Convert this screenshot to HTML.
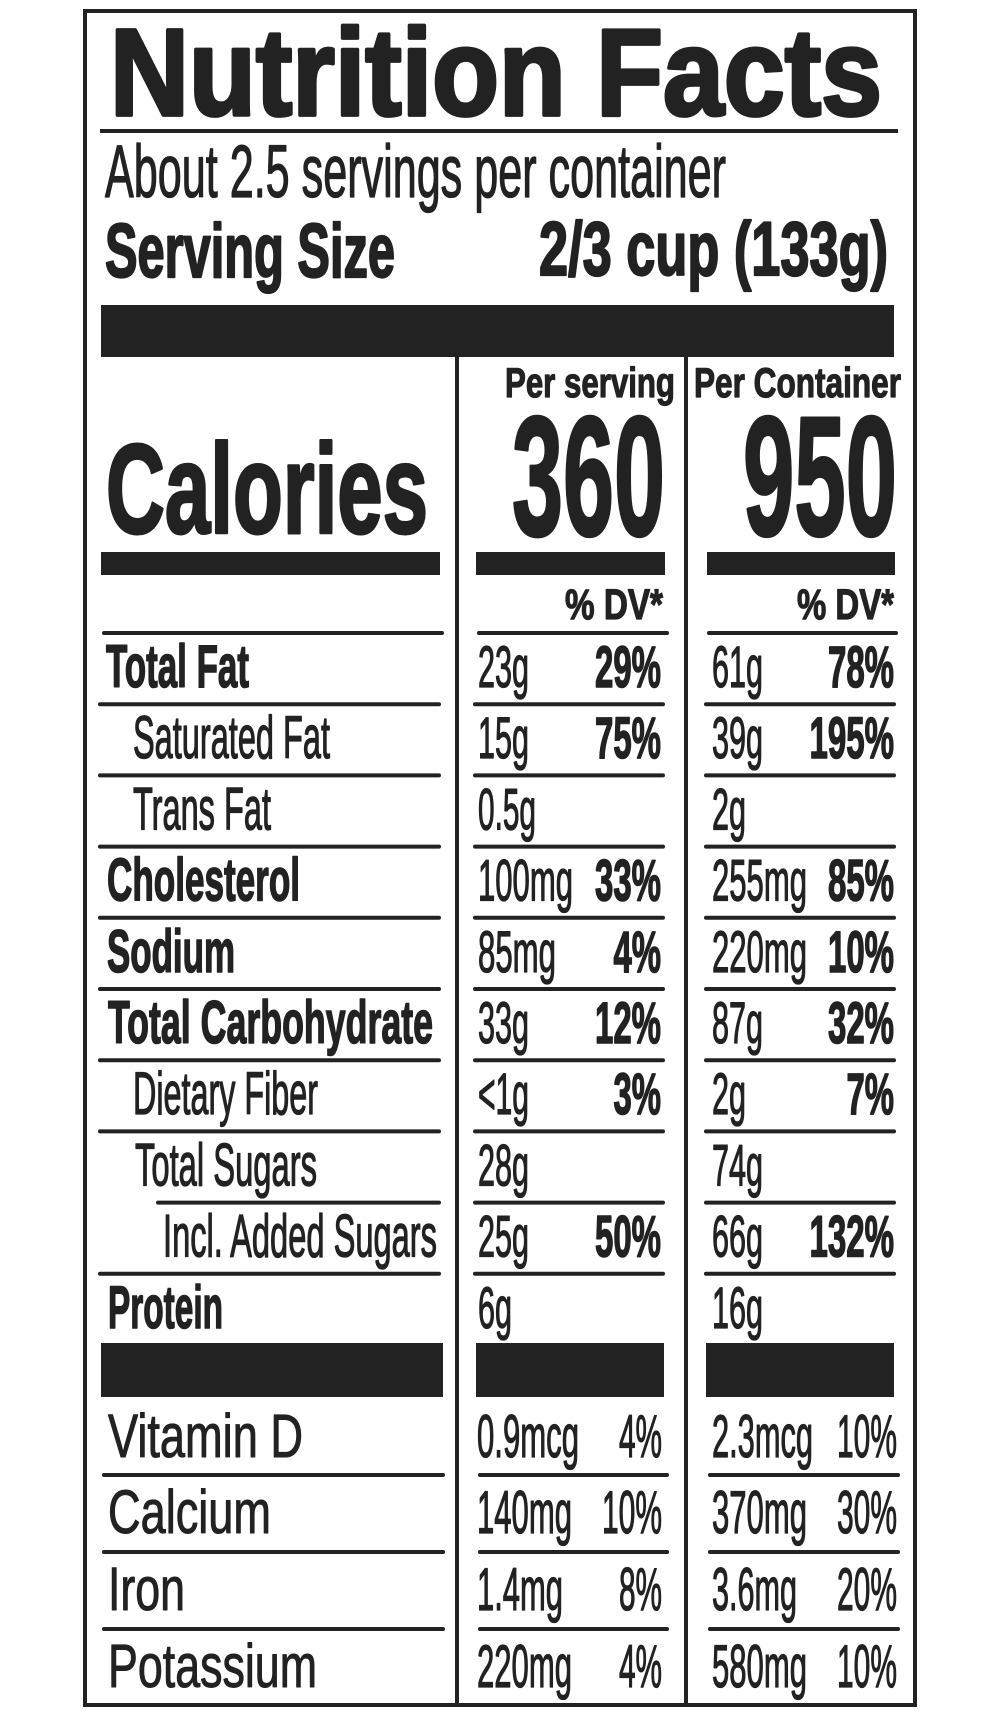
<!DOCTYPE html>
<html><head><meta charset="utf-8"><style>
html,body{margin:0;padding:0;background:#fff;}
svg{display:block;}
text{fill:#222;stroke:#222;stroke-linejoin:round;font-family:"Liberation Sans Narrow","Liberation Sans",sans-serif;}
.b{font-weight:700;stroke-width:1.6;}
.r{font-weight:400;stroke-width:1.3;}
.w{font-family:"Liberation Sans",sans-serif;stroke-width:1.0;}
line{stroke:#222;stroke-width:4;stroke-linecap:round;}
</style></head><body>
<svg width="1000" height="1718" viewBox="0 0 1000 1718" xmlns="http://www.w3.org/2000/svg">
<rect x="0" y="0" width="1000" height="1718" fill="#fff"/>
<rect x="85" y="11" width="830" height="1694" fill="none" stroke="#222" stroke-width="4"/>

<!-- Title -->
<text class="b" x="110" y="115" font-size="123" textLength="772" lengthAdjust="spacingAndGlyphs" style="stroke-width:3.8;font-family:'Liberation Sans',sans-serif">Nutrition Facts</text>
<rect x="100" y="129" width="798" height="4" fill="#222"/>
<text class="r" x="105" y="197" font-size="74" textLength="621" lengthAdjust="spacingAndGlyphs">About 2.5 servings per container</text>
<text class="b" x="105" y="277" font-size="76" textLength="290" lengthAdjust="spacingAndGlyphs" style="stroke-width:2.2">Serving Size</text>
<text class="b" x="539" y="275" font-size="76" textLength="349" lengthAdjust="spacingAndGlyphs" style="stroke-width:2.2">2/3 cup (133g)</text>
<rect x="101" y="305" width="793" height="52" fill="#222"/>

<!-- Dividers -->
<rect x="455" y="357" width="4" height="1348" fill="#222"/>
<rect x="684" y="357" width="4" height="1348" fill="#222"/>

<!-- Calories header -->
<text class="b" x="505" y="397" font-size="42" textLength="170" lengthAdjust="spacingAndGlyphs" style="stroke-width:1.2">Per serving</text>
<text class="b" x="694" y="397" font-size="42" textLength="207" lengthAdjust="spacingAndGlyphs" style="stroke-width:1.2">Per Container</text>
<text class="b" x="106" y="533" font-size="127" textLength="322" lengthAdjust="spacingAndGlyphs" style="stroke-width:3">Calories</text>
<text class="b" x="512" y="535" font-size="170" textLength="153" lengthAdjust="spacingAndGlyphs" style="stroke-width:3">360</text>
<text class="b" x="743" y="535" font-size="170" textLength="154" lengthAdjust="spacingAndGlyphs" style="stroke-width:3">950</text>
<rect x="101" y="552" width="339" height="23" fill="#222"/>
<rect x="476" y="552" width="189" height="23" fill="#222"/>
<rect x="707" y="552" width="188" height="23" fill="#222"/>
<text class="b" x="565" y="619" font-size="43" textLength="98" lengthAdjust="spacingAndGlyphs" style="stroke-width:1.2">% DV*</text>
<text class="b" x="797" y="619" font-size="43" textLength="97" lengthAdjust="spacingAndGlyphs" style="stroke-width:1.2">% DV*</text>

<!-- Row lines -->
<line x1="104" y1="633" x2="442" y2="633"/><line x1="479" y1="633" x2="667" y2="633"/><line x1="709" y1="633" x2="896" y2="633"/>
<line x1="100" y1="704.2" x2="439" y2="704.2"/><line x1="475" y1="704.2" x2="663" y2="704.2"/><line x1="706" y1="704.2" x2="894" y2="704.2"/>
<line x1="100" y1="775.4" x2="439" y2="775.4"/><line x1="475" y1="775.4" x2="663" y2="775.4"/><line x1="706" y1="775.4" x2="894" y2="775.4"/>
<line x1="100" y1="846.6" x2="439" y2="846.6"/><line x1="475" y1="846.6" x2="663" y2="846.6"/><line x1="706" y1="846.6" x2="894" y2="846.6"/>
<line x1="100" y1="917.8" x2="439" y2="917.8"/><line x1="475" y1="917.8" x2="663" y2="917.8"/><line x1="706" y1="917.8" x2="894" y2="917.8"/>
<line x1="100" y1="989" x2="439" y2="989"/><line x1="475" y1="989" x2="663" y2="989"/><line x1="706" y1="989" x2="894" y2="989"/>
<line x1="100" y1="1060.2" x2="439" y2="1060.2"/><line x1="475" y1="1060.2" x2="663" y2="1060.2"/><line x1="706" y1="1060.2" x2="894" y2="1060.2"/>
<line x1="100" y1="1131.4" x2="439" y2="1131.4"/><line x1="475" y1="1131.4" x2="663" y2="1131.4"/><line x1="706" y1="1131.4" x2="894" y2="1131.4"/>
<line x1="158" y1="1202.6" x2="439" y2="1202.6"/><line x1="475" y1="1202.6" x2="663" y2="1202.6"/><line x1="706" y1="1202.6" x2="894" y2="1202.6"/>
<line x1="100" y1="1273.8" x2="439" y2="1273.8"/><line x1="475" y1="1273.8" x2="663" y2="1273.8"/><line x1="706" y1="1273.8" x2="894" y2="1273.8"/>

<!-- Row labels -->
<text class="b" x="106" y="687" font-size="60" textLength="143" lengthAdjust="spacingAndGlyphs">Total Fat</text>
<text class="r" x="133" y="758.2" font-size="60" textLength="197" lengthAdjust="spacingAndGlyphs">Saturated Fat</text>
<text class="r" x="133" y="829.4" font-size="60" textLength="138" lengthAdjust="spacingAndGlyphs">Trans Fat</text>
<text class="b" x="107" y="900.6" font-size="60" textLength="193" lengthAdjust="spacingAndGlyphs">Cholesterol</text>
<text class="b" x="107" y="971.8" font-size="60" textLength="128" lengthAdjust="spacingAndGlyphs">Sodium</text>
<text class="b" x="108" y="1043" font-size="60" textLength="325" lengthAdjust="spacingAndGlyphs">Total Carbohydrate</text>
<text class="r" x="133" y="1114.2" font-size="60" textLength="185" lengthAdjust="spacingAndGlyphs">Dietary Fiber</text>
<text class="r" x="135" y="1185.4" font-size="60" textLength="182" lengthAdjust="spacingAndGlyphs">Total Sugars</text>
<text class="r" x="163" y="1256.6" font-size="60" textLength="274" lengthAdjust="spacingAndGlyphs">Incl. Added Sugars</text>
<text class="b" x="108" y="1327.8" font-size="60" textLength="115" lengthAdjust="spacingAndGlyphs">Protein</text>

<!-- Col2 values -->
<text class="r" x="478" y="687" font-size="58" textLength="51" lengthAdjust="spacingAndGlyphs">23g</text>
<text class="b" x="595" y="687" font-size="58" textLength="66" lengthAdjust="spacingAndGlyphs">29%</text>
<text class="r" x="478" y="758.2" font-size="58" textLength="51" lengthAdjust="spacingAndGlyphs">15g</text>
<text class="b" x="595" y="758.2" font-size="58" textLength="66" lengthAdjust="spacingAndGlyphs">75%</text>
<text class="r" x="478" y="829.4" font-size="58" textLength="58" lengthAdjust="spacingAndGlyphs">0.5g</text>
<text class="r" x="478" y="900.6" font-size="58" textLength="95" lengthAdjust="spacingAndGlyphs">100mg</text>
<text class="b" x="595" y="900.6" font-size="58" textLength="66" lengthAdjust="spacingAndGlyphs">33%</text>
<text class="r" x="478" y="971.8" font-size="58" textLength="78" lengthAdjust="spacingAndGlyphs">85mg</text>
<text class="b" x="613.5" y="971.8" font-size="58" textLength="47.5" lengthAdjust="spacingAndGlyphs">4%</text>
<text class="r" x="478" y="1043" font-size="58" textLength="51" lengthAdjust="spacingAndGlyphs">33g</text>
<text class="b" x="595" y="1043" font-size="58" textLength="66" lengthAdjust="spacingAndGlyphs">12%</text>
<text class="r" x="478" y="1114.2" font-size="58" textLength="51" lengthAdjust="spacingAndGlyphs">&lt;1g</text>
<text class="b" x="613.5" y="1114.2" font-size="58" textLength="47.5" lengthAdjust="spacingAndGlyphs">3%</text>
<text class="r" x="478" y="1185.4" font-size="58" textLength="51" lengthAdjust="spacingAndGlyphs">28g</text>
<text class="r" x="478" y="1256.6" font-size="58" textLength="51" lengthAdjust="spacingAndGlyphs">25g</text>
<text class="b" x="595" y="1256.6" font-size="58" textLength="66" lengthAdjust="spacingAndGlyphs">50%</text>
<text class="r" x="478" y="1327.8" font-size="58" textLength="34" lengthAdjust="spacingAndGlyphs">6g</text>

<!-- Col3 values -->
<text class="r" x="712" y="687" font-size="58" textLength="51" lengthAdjust="spacingAndGlyphs">61g</text>
<text class="b" x="828" y="687" font-size="58" textLength="66" lengthAdjust="spacingAndGlyphs">78%</text>
<text class="r" x="712" y="758.2" font-size="58" textLength="51" lengthAdjust="spacingAndGlyphs">39g</text>
<text class="b" x="809.5" y="758.2" font-size="58" textLength="84.5" lengthAdjust="spacingAndGlyphs">195%</text>
<text class="r" x="712" y="829.4" font-size="58" textLength="34" lengthAdjust="spacingAndGlyphs">2g</text>
<text class="r" x="712" y="900.6" font-size="58" textLength="95" lengthAdjust="spacingAndGlyphs">255mg</text>
<text class="b" x="828" y="900.6" font-size="58" textLength="66" lengthAdjust="spacingAndGlyphs">85%</text>
<text class="r" x="712" y="971.8" font-size="58" textLength="95" lengthAdjust="spacingAndGlyphs">220mg</text>
<text class="b" x="828" y="971.8" font-size="58" textLength="66" lengthAdjust="spacingAndGlyphs">10%</text>
<text class="r" x="712" y="1043" font-size="58" textLength="51" lengthAdjust="spacingAndGlyphs">87g</text>
<text class="b" x="828" y="1043" font-size="58" textLength="66" lengthAdjust="spacingAndGlyphs">32%</text>
<text class="r" x="712" y="1114.2" font-size="58" textLength="34" lengthAdjust="spacingAndGlyphs">2g</text>
<text class="b" x="846.5" y="1114.2" font-size="58" textLength="47.5" lengthAdjust="spacingAndGlyphs">7%</text>
<text class="r" x="712" y="1185.4" font-size="58" textLength="51" lengthAdjust="spacingAndGlyphs">74g</text>
<text class="r" x="712" y="1256.6" font-size="58" textLength="51" lengthAdjust="spacingAndGlyphs">66g</text>
<text class="b" x="809.5" y="1256.6" font-size="58" textLength="84.5" lengthAdjust="spacingAndGlyphs">132%</text>
<text class="r" x="712" y="1327.8" font-size="58" textLength="51" lengthAdjust="spacingAndGlyphs">16g</text>

<!-- Lower black bars -->
<rect x="101" y="1343" width="342" height="54" fill="#222"/>
<rect x="476" y="1343" width="188" height="54" fill="#222"/>
<rect x="706" y="1343" width="188" height="54" fill="#222"/>

<!-- Vitamin lines -->
<line x1="104" y1="1475" x2="443" y2="1475"/><line x1="480" y1="1475" x2="667" y2="1475"/><line x1="710" y1="1475" x2="898" y2="1475"/>
<line x1="104" y1="1552" x2="443" y2="1552"/><line x1="480" y1="1552" x2="667" y2="1552"/><line x1="710" y1="1552" x2="898" y2="1552"/>
<line x1="104" y1="1629" x2="443" y2="1629"/><line x1="480" y1="1629" x2="667" y2="1629"/><line x1="710" y1="1629" x2="898" y2="1629"/>

<!-- Vitamin labels -->
<text class="r w" x="108" y="1457" font-size="61" textLength="195" lengthAdjust="spacingAndGlyphs">Vitamin D</text>
<text class="r w" x="108" y="1533" font-size="61" textLength="163" lengthAdjust="spacingAndGlyphs">Calcium</text>
<text class="r w" x="108" y="1610" font-size="61" textLength="77" lengthAdjust="spacingAndGlyphs">Iron</text>
<text class="r w" x="108" y="1687" font-size="61" textLength="209" lengthAdjust="spacingAndGlyphs">Potassium</text>

<!-- Vitamin col2 -->
<text class="r" x="477" y="1457" font-size="60" textLength="102" lengthAdjust="spacingAndGlyphs">0.9mcg</text>
<text class="r" x="619" y="1457" font-size="60" textLength="43" lengthAdjust="spacingAndGlyphs">4%</text>
<text class="r" x="477" y="1533" font-size="60" textLength="95" lengthAdjust="spacingAndGlyphs">140mg</text>
<text class="r" x="602" y="1533" font-size="60" textLength="60" lengthAdjust="spacingAndGlyphs">10%</text>
<text class="r" x="477" y="1610" font-size="60" textLength="86" lengthAdjust="spacingAndGlyphs">1.4mg</text>
<text class="r" x="619" y="1610" font-size="60" textLength="43" lengthAdjust="spacingAndGlyphs">8%</text>
<text class="r" x="477" y="1687" font-size="60" textLength="95" lengthAdjust="spacingAndGlyphs">220mg</text>
<text class="r" x="619" y="1687" font-size="60" textLength="43" lengthAdjust="spacingAndGlyphs">4%</text>

<!-- Vitamin col3 -->
<text class="r" x="712" y="1457" font-size="60" textLength="101" lengthAdjust="spacingAndGlyphs">2.3mcg</text>
<text class="r" x="837" y="1457" font-size="60" textLength="60" lengthAdjust="spacingAndGlyphs">10%</text>
<text class="r" x="712" y="1533" font-size="60" textLength="95" lengthAdjust="spacingAndGlyphs">370mg</text>
<text class="r" x="837" y="1533" font-size="60" textLength="60" lengthAdjust="spacingAndGlyphs">30%</text>
<text class="r" x="712" y="1610" font-size="60" textLength="85" lengthAdjust="spacingAndGlyphs">3.6mg</text>
<text class="r" x="837" y="1610" font-size="60" textLength="60" lengthAdjust="spacingAndGlyphs">20%</text>
<text class="r" x="712" y="1687" font-size="60" textLength="95" lengthAdjust="spacingAndGlyphs">580mg</text>
<text class="r" x="837" y="1687" font-size="60" textLength="60" lengthAdjust="spacingAndGlyphs">10%</text>
</svg>
</body></html>
